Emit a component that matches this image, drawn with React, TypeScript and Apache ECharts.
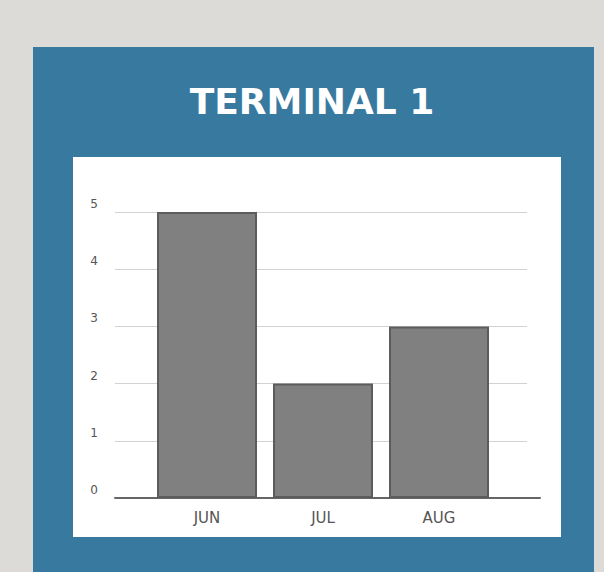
import React, { useEffect, useRef } from "react";
import * as echarts from "echarts";

const title = "TERMINAL 1";
const months = ["JUN", "JUL", "AUG"];
const values = [5, 2, 3];
const yMin = 0;
const yMax = 5;
const yStep = 1;

export default function App() {
  const ref = useRef<HTMLDivElement>(null);
  useEffect(() => {
    if (!ref.current) return;
    const chart = echarts.init(ref.current, undefined, { renderer: "svg" });
    const top = 212;
    const bottom = 74;
    chart.setOption({
      animation: false,
      backgroundColor: "#dcdbd7",
      graphic: [
        { type: "rect", z: -10, shape: { x: 33, y: 47, width: 561, height: 540 }, style: { fill: "#3879a0" } },
        { type: "rect", z: -9, shape: { x: 73, y: 157, width: 488, height: 380 }, style: { fill: "#ffffff" } },
        {
          type: "text",
          x: 312,
          y: 101,
          style: {
            text: title,
            fill: "#ffffff",
            font: "bold 36px 'DejaVu Sans'",
            textAlign: "center",
            textVerticalAlign: "middle",
          },
        },
      ],
      grid: [
        { left: 115, right: 77, top, bottom },
        { left: 115, right: 64, top, bottom },
        { left: 149, right: 107, top, bottom },
      ],
      xAxis: [
        { gridIndex: 0, type: "value", show: false },
        {
          gridIndex: 1,
          type: "value",
          axisLine: { show: true, lineStyle: { color: "#666666", width: 2 } },
          axisTick: { show: false },
          axisLabel: { show: false },
          splitLine: { show: false },
        },
        {
          gridIndex: 2,
          type: "category",
          data: months,
          axisLine: { show: false },
          axisTick: { show: false },
          axisLabel: { margin: 12, fontSize: 15, color: "#555555", fontFamily: "DejaVu Sans" },
        },
      ],
      yAxis: [
        {
          gridIndex: 0,
          type: "value",
          min: yMin,
          max: yMax,
          interval: yStep,
          axisLine: { show: false },
          axisTick: { show: false },
          splitLine: { show: true, lineStyle: { color: "#d2d2d2", width: 1 } },
          axisLabel: {
            margin: 17,
            fontSize: 12,
            color: "#555555",
            fontFamily: "DejaVu Sans",
            verticalAlign: "bottom",
            lineHeight: 16,
          },
        },
        { gridIndex: 1, type: "value", min: yMin, max: yMax, show: false },
        { gridIndex: 2, type: "value", min: yMin, max: yMax, show: false },
      ],
      series: [
        {
          type: "bar",
          xAxisIndex: 2,
          yAxisIndex: 2,
          data: values,
          barWidth: 100,
          itemStyle: { color: "#808080", borderColor: "#5c5c5c", borderWidth: 2 },
        },
      ],
    });
    return () => chart.dispose();
  }, []);
  return <div ref={ref} style={{ position: "absolute", left: 0, top: 0, width: 604, height: 572 }} />;
}
